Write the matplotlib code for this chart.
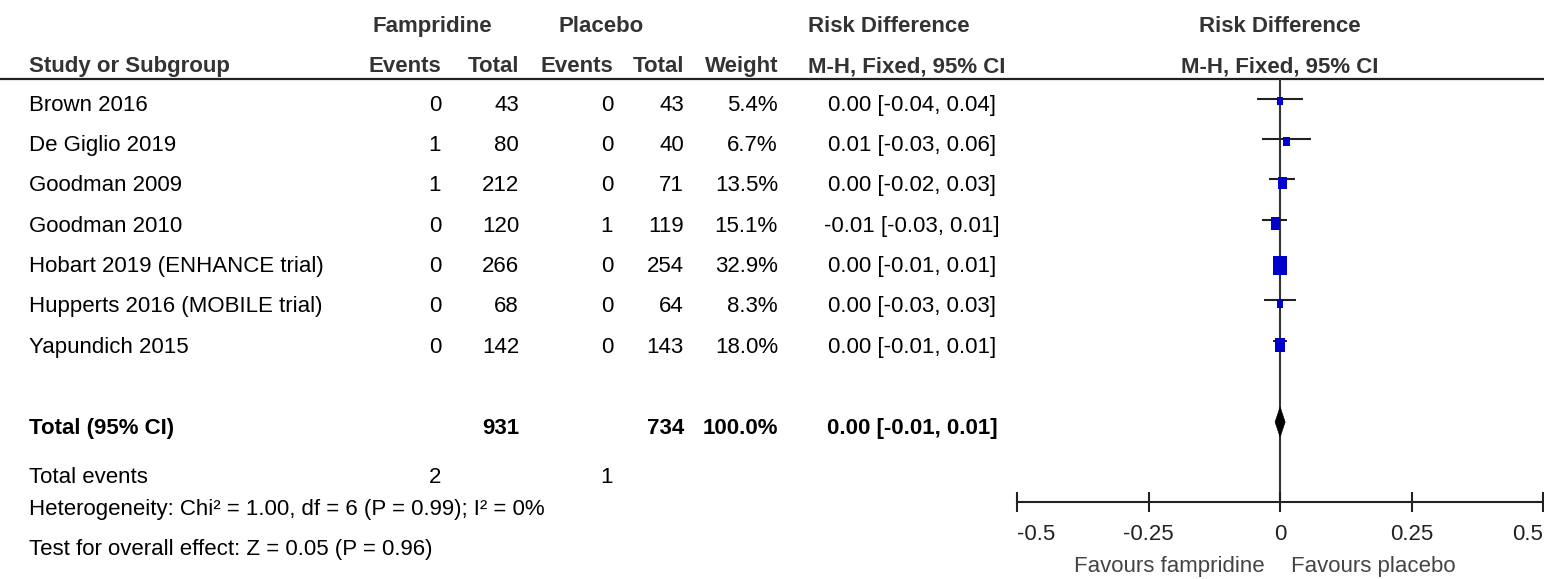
import matplotlib
matplotlib.use("Agg")
import matplotlib.pyplot as plt
from matplotlib.patches import Rectangle, Polygon

plt.rcParams['font.family'] = ['Liberation Sans', 'DejaVu Sans']
plt.rcParams['font.size'] = 16

# data
studies = ["Brown 2016", "De Giglio 2019", "Goodman 2009", "Goodman 2010",
           "Hobart 2019 (ENHANCE trial)", "Hupperts 2016 (MOBILE trial)", "Yapundich 2015"]
fam_events = [0, 1, 1, 0, 0, 0, 0]
fam_total = [43, 80, 212, 120, 266, 68, 142]
pla_events = [0, 0, 0, 1, 0, 0, 0]
pla_total = [43, 40, 71, 119, 254, 64, 143]
weight = [5.4, 6.7, 13.5, 15.1, 32.9, 8.3, 18.0]
rd = [0.0, 0.0125, 0.004, -0.0084, 0.0, 0.0, 0.0]
ci_lo = [-0.044, -0.034, -0.020, -0.034, -0.007, -0.030, -0.014]
ci_hi = [0.044, 0.058, 0.028, 0.014, 0.007, 0.030, 0.014]

total_weight = 100.0
total_rd = 0.0002
total_lo = -0.0093
total_hi = 0.0097

het_text = "Heterogeneity: Chi² = 1.00, df = 6 (P = 0.99); I² = 0%"
test_text = "Test for overall effect: Z = 0.05 (P = 0.96)"

xticks = [-0.5, -0.25, 0, 0.25, 0.5]
xticklabels = ["-0.5", "-0.25", "0", "0.25", "0.5"]


def fmt(v):
    s = f"{v:.2f}"
    return "0.00" if s == "-0.00" else s


def ci_str(m, lo, hi):
    return f"{fmt(m)} [{fmt(lo)}, {fmt(hi)}]"


W, H = 1544, 579
fig = plt.figure(figsize=(W / 100, H / 100), dpi=100)

# table layer in pixel coordinates
tab = fig.add_axes([0, 0, 1, 1])
tab.set_xlim(0, W)
tab.set_ylim(H, 0)
tab.axis("off")

# layout (pixels)
x_name = 29
x_fe, x_ft, x_pe, x_pt, x_w = 441, 519, 613, 684, 778
x_ci = 912
x_rdhead = 808
x_plot0, x_plot1 = 1017, 1543
y_line = 79
y_axis = 502
row0, row_step = 98.7, 40.33
txt_off = 12
y_total = 422

line_col = "#222222"
hdr_col = "#333333"
tab.text(373, 32, "Fampridine", fontweight="bold", color=hdr_col, va="baseline")
tab.text(558, 32, "Placebo", fontweight="bold", color=hdr_col, va="baseline")
tab.text(x_rdhead, 32, "Risk Difference", fontweight="bold", color=hdr_col, va="baseline")
tab.text(1280, 32, "Risk Difference", fontweight="bold", color=hdr_col, va="baseline", ha="center")

tab.text(x_name, 72, "Study or Subgroup", fontweight="bold", color=hdr_col, va="baseline")
for x, lab in zip([x_fe, x_ft, x_pe, x_pt, x_w], ["Events", "Total", "Events", "Total", "Weight"]):
    tab.text(x, 72, lab, fontweight="bold", color=hdr_col, va="baseline", ha="right")
tab.text(x_rdhead, 72, "M-H, Fixed, 95% CI", fontweight="bold", color=hdr_col, va="baseline")
tab.text(1280, 72, "M-H, Fixed, 95% CI", fontweight="bold", color=hdr_col, va="baseline", ha="center")

tab.plot([0, W], [y_line, y_line], color=line_col, lw=1.6, solid_capstyle="butt")

rows_y = [row0 + i * row_step for i in range(len(studies))]
for i, y in enumerate(rows_y):
    yb = y + txt_off
    tab.text(x_name, yb, studies[i], va="baseline")
    tab.text(x_fe, yb, str(fam_events[i]), va="baseline", ha="right")
    tab.text(x_ft, yb, str(fam_total[i]), va="baseline", ha="right")
    tab.text(x_pe, yb, str(pla_events[i]), va="baseline", ha="right")
    tab.text(x_pt, yb, str(pla_total[i]), va="baseline", ha="right")
    tab.text(x_w, yb, f"{weight[i]:.1f}%", va="baseline", ha="right")
    tab.text(x_ci, yb, ci_str(rd[i], ci_lo[i], ci_hi[i]), va="baseline", ha="center")

yb = y_total + txt_off
tab.text(x_name, yb, "Total (95% CI)", fontweight="bold", va="baseline")
tab.text(x_ft, yb, str(sum(fam_total)), fontweight="bold", va="baseline", ha="right")
tab.text(x_pt, yb, str(sum(pla_total)), fontweight="bold", va="baseline", ha="right")
tab.text(x_w, yb, f"{total_weight:.1f}%", fontweight="bold", va="baseline", ha="right")
tab.text(x_ci, yb, ci_str(total_rd, total_lo, total_hi), fontweight="bold", va="baseline", ha="center")

tab.text(x_name, 483, "Total events", va="baseline")
tab.text(x_fe, 483, str(sum(fam_events)), va="baseline", ha="right")
tab.text(x_pe, 483, str(sum(pla_events)), va="baseline", ha="right")
tab.text(x_name, 515, het_text, va="baseline")
tab.text(x_name, 555, test_text, va="baseline")

# forest plot axes, y in the same pixel units
ax = fig.add_axes([x_plot0 / W, (H - y_axis) / H, (x_plot1 - x_plot0) / W, (y_axis - y_line) / H])
ax.set_xlim(-0.5, 0.5)
ax.set_ylim(y_axis, y_line)
ax.patch.set_alpha(0)
for s in ["top", "left", "right"]:
    ax.spines[s].set_visible(False)
ax.spines["bottom"].set_color(line_col)
ax.spines["bottom"].set_linewidth(1.5)
ax.set_yticks([])
ax.set_xticks(xticks)
ax.set_xticklabels(xticklabels)
ax.tick_params(axis="x", direction="inout", length=15, width=1.5, pad=8, colors=line_col, labelsize=16)
tl = ax.get_xticklabels()
tl[0].set_ha("left")
tl[-1].set_ha("right")
ax.spines["bottom"].set_clip_on(False)
for t in ax.xaxis.get_major_ticks():
    t.tick1line.set_clip_on(False)

ax.axvline(0, color="#333333", lw=1.5, zorder=1)

px_x = 1.0 / (x_plot1 - x_plot0)  # data units per pixel on x
for i, y in enumerate(rows_y):
    ax.hlines(y, ci_lo[i], ci_hi[i], color=line_col, lw=1.5, zorder=2)
    w_px = 2.4 * weight[i] ** 0.5
    h_px = 3.2 * weight[i] ** 0.5
    cy = y + 0.3 * h_px
    ax.add_patch(Rectangle((rd[i] - w_px * px_x / 2, cy - h_px / 2), w_px * px_x, h_px,
                           facecolor="#0000CC", edgecolor="none", zorder=3))

dh = 15
ax.add_patch(Polygon([(total_lo, y_total), (total_rd, y_total - dh),
                      (total_hi, y_total), (total_rd, y_total + dh)],
                     closed=True, facecolor="black", edgecolor="black", lw=0.5, zorder=3))

ax.text(-0.03, 572, "Favours fampridine", ha="right", va="baseline", color="#444444", fontsize=16)
ax.text(0.02, 572, "Favours placebo", ha="left", va="baseline", color="#444444", fontsize=16)

fig.savefig("out.png", dpi=100)
